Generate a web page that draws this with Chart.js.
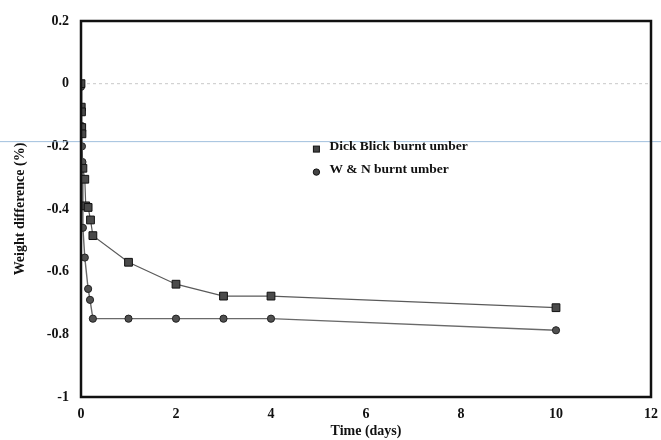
<!DOCTYPE html>
<html>
<head>
<meta charset="utf-8">
<script src="https://cdn.jsdelivr.net/npm/chart.js@4.4.1/dist/chart.umd.min.js"></script>
<style>
  html, body { margin: 0; padding: 0; background: #ffffff; }
  #wrap { width: 661px; height: 440px; position: relative; }
</style>
</head>
<body>
<div id="wrap"><canvas id="c" width="661" height="440"></canvas></div>
<script>
// ---- data ----
const seriesNames = ["Dick Blick burnt umber", "W & N burnt umber"];

const dickBlickTimes  = [0, 0.005, 0.01, 0.015, 0.02, 0.04, 0.08, 0.1, 0.15, 0.2, 0.25, 1, 2, 3, 4, 10];
const dickBlickWeight = [0, -0.075, -0.09, -0.14, -0.16, -0.27, -0.305, -0.39, -0.395, -0.435, -0.485, -0.57, -0.64, -0.678, -0.678, -0.715];

const wnTimes  = [0, 0.005, 0.01, 0.02, 0.03, 0.04, 0.08, 0.15, 0.19, 0.25, 1, 2, 3, 4, 10];
const wnWeight = [-0.01, -0.085, -0.135, -0.2, -0.25, -0.46, -0.555, -0.655, -0.69, -0.75, -0.75, -0.75, -0.75, -0.75, -0.787];

const xTickValues = [0, 2, 4, 6, 8, 10, 12];
const xTickLabels = ["0", "2", "4", "6", "8", "10", "12"];
const yTickValues = [0.2, 0, -0.2, -0.4, -0.6, -0.8, -1];
const yTickLabels = ["0.2", "0", "-0.2", "-0.4", "-0.6", "-0.8", "-1"];

const xTitle = "Time (days)";
const yTitle = "Weight difference (%)";
const scanLineValue = -0.185; // faint blue scan line across the page

// ---- build ----
function pts(xs, ys) { return xs.map((x, i) => ({ x: x, y: ys[i] })); }

const FONT = "'Liberation Serif', 'DejaVu Serif', serif";

const framePlugin = {
  id: 'frame',
  beforeDatasetsDraw(chart) {
    const { ctx, chartArea: a, scales } = chart;
    ctx.save();
    const y0 = scales.y.getPixelForValue(0);
    ctx.strokeStyle = 'rgba(150,150,150,0.5)';
    ctx.lineWidth = 1;
    ctx.setLineDash([3, 3]);
    ctx.beginPath();
    ctx.moveTo(a.left + 6, y0);
    ctx.lineTo(a.right, y0);
    ctx.stroke();
    ctx.setLineDash([]);
    const yb = scales.y.getPixelForValue(scanLineValue);
    ctx.strokeStyle = 'rgba(130,170,210,0.75)';
    ctx.beginPath();
    ctx.moveTo(0, yb);
    ctx.lineTo(chart.width, yb);
    ctx.stroke();
    ctx.restore();
  },
  afterDraw(chart) {
    const { ctx, chartArea: a } = chart;
    ctx.save();
    ctx.strokeStyle = '#111';
    ctx.lineWidth = 2.5;
    ctx.strokeRect(a.left, a.top, a.right - a.left, a.bottom - a.top);
    // in-plot legend
    const lx = a.left + (a.right - a.left) * 0.413;
    const ly = a.top + (a.bottom - a.top) * 0.338;
    ctx.font = "bold 13.5px " + FONT;
    ctx.textBaseline = 'middle';
    const styles = ['rect', 'circle'];
    for (let i = 0; i < seriesNames.length; i++) {
      const yy = ly + i * 23;
      ctx.fillStyle = '#444';
      ctx.strokeStyle = '#111';
      ctx.lineWidth = 1;
      if (styles[i] === 'rect') {
        ctx.fillRect(lx - 3, yy - 2, 6, 6);
        ctx.strokeRect(lx - 3, yy - 2, 6, 6);
      } else {
        ctx.beginPath();
        ctx.arc(lx, yy + 1, 3.2, 0, Math.PI * 2);
        ctx.fill();
        ctx.stroke();
      }
      ctx.fillStyle = '#111';
      ctx.fillText(seriesNames[i], lx + 13, yy - 2);
    }
    ctx.restore();
  }
};

new Chart(document.getElementById('c'), {
  type: 'scatter',
  data: {
    datasets: [
      {
        label: seriesNames[0],
        data: pts(dickBlickTimes, dickBlickWeight),
        showLine: true,
        borderColor: '#5a5a5a',
        borderWidth: 1.2,
        pointStyle: 'rect',
        pointRadius: 5.5,
        pointBackgroundColor: '#4a4a4a',
        pointBorderColor: '#111',
        pointBorderWidth: 1
      },
      {
        label: seriesNames[1],
        data: pts(wnTimes, wnWeight),
        showLine: true,
        borderColor: '#6a6a6a',
        borderWidth: 1.4,
        pointStyle: 'circle',
        pointRadius: 3.6,
        pointBackgroundColor: '#505050',
        pointBorderColor: '#222',
        pointBorderWidth: 1
      }
    ]
  },
  options: {
    responsive: false,
    animation: false,
    layout: { padding: { top: 21, right: 10, left: 0, bottom: 0 } },
    plugins: { legend: { display: false }, tooltip: { enabled: false } },
    scales: {
      x: {
        type: 'linear',
        min: 0, max: 12,
        afterBuildTicks(s) { s.ticks = xTickValues.map(v => ({ value: v })); },
        afterFit(s) { s.height = 43; s.paddingRight = 0; s.paddingLeft = 0; },
        grid: { display: false, drawTicks: false },
        border: { display: false },
        ticks: {
          padding: 9,
          color: '#111',
          font: { family: FONT, size: 14, weight: 'bold' },
          callback(v) { const i = xTickValues.indexOf(v); return i >= 0 ? xTickLabels[i] : ''; },
          maxRotation: 0
        },
        title: {
          display: true, text: xTitle, color: '#111', padding: { top: 0, bottom: 0 },
          font: { family: FONT, size: 14, weight: 'bold' }
        }
      },
      y: {
        type: 'linear',
        min: -1, max: 0.2,
        afterBuildTicks(s) { s.ticks = yTickValues.map(v => ({ value: v })); },
        afterFit(s) { s.width = 81; s.paddingTop = 0; s.paddingBottom = 0; },
        grid: { display: false, drawTicks: false },
        border: { display: false },
        ticks: {
          padding: 12,
          color: '#111',
          font: { family: FONT, size: 14, weight: 'bold' },
          callback(v) {
            const i = yTickValues.findIndex(t => Math.abs(t - v) < 1e-9);
            return i >= 0 ? yTickLabels[i] : '';
          }
        },
        title: {
          display: true, text: yTitle, color: '#111', padding: { top: 12, bottom: 0 },
          font: { family: FONT, size: 14, weight: 'bold' }
        }
      }
    }
  },
  plugins: [framePlugin]
});
</script>
</body>
</html>
